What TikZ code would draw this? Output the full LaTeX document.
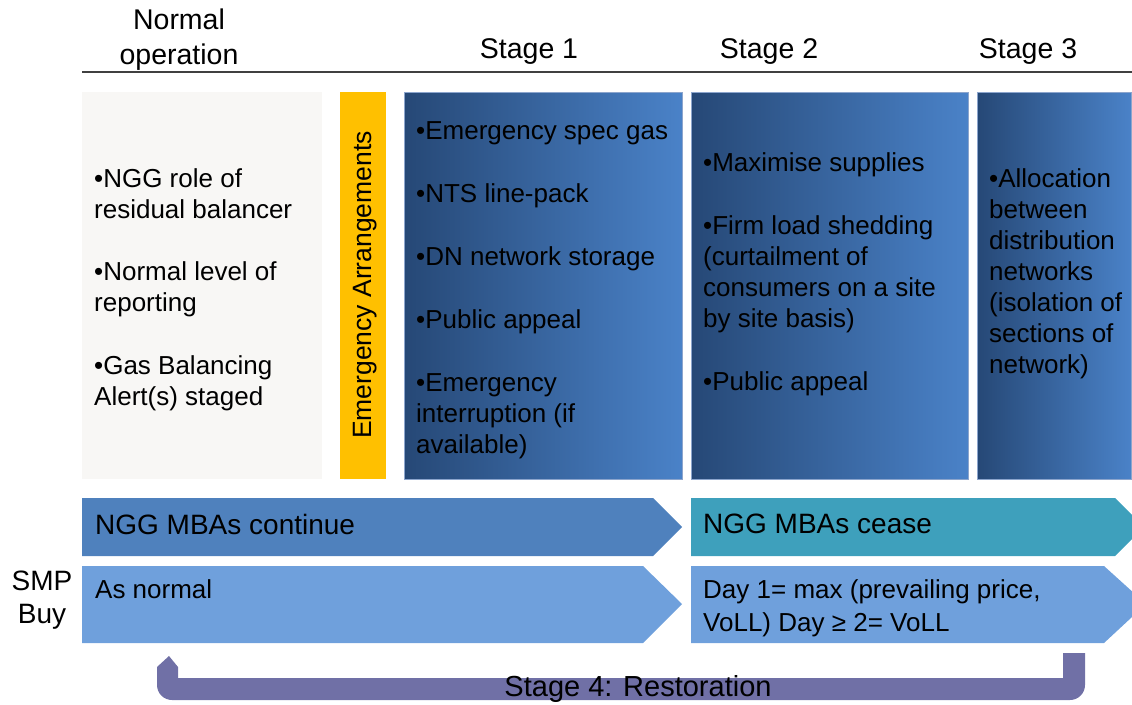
\documentclass[tikz,border=0pt]{standalone}
\usepackage{fontspec}
\setmainfont{Liberation Sans}
\definecolor{normbox}{RGB}{248,247,245}
\definecolor{emyellow}{RGB}{255,192,0}
\definecolor{gradL}{RGB}{38,72,118}
\definecolor{gradR}{RGB}{74,130,200}
\definecolor{gradEdge}{RGB}{140,165,205}
\definecolor{rowA}{RGB}{79,129,189}
\definecolor{rowTeal}{RGB}{62,160,188}
\definecolor{rowB}{RGB}{111,160,220}
\definecolor{restor}{RGB}{112,112,166}
\definecolor{hline}{RGB}{64,64,64}
\tikzset{
  x=1pt, y=-1pt,
  hdr/.style={font=\fontsize{28.5}{35}\selectfont, inner sep=0pt, align=center},
  body/.style={font=\fontsize{26}{31}\selectfont, inner sep=0pt, align=left, anchor=north west},
  rowtxt/.style={font=\fontsize{28}{33}\selectfont, inner sep=0pt, anchor=west},
  rowtxtb/.style={font=\fontsize{26}{33}\selectfont, inner sep=0pt, align=left, anchor=north west},
  gradbox/.style={left color=gradL, right color=gradR, draw=gradEdge, line width=0.8pt},
}
\begin{document}
\begin{tikzpicture}
\useasboundingbox (0,0) rectangle (1132,704);
\clip (0,0) rectangle (1132,704);

% headers
\node[hdr] (hnorm) at (179,40) {Normal\\operation};
\node[hdr] (hs1) at (529,52) {Stage 1};
\node[hdr] (hs2) at (769,52) {Stage 2};
\node[hdr] (hs3) at (1028,52) {Stage 3};
\coordinate (hlA) at (82,72);
\coordinate (hlB) at (1132,72);
\draw[hline, line width=1.5pt] (hlA) -- (hlB);

% boxes
\fill[normbox] (82,92) rectangle (322,479);
\fill[emyellow] (340,92) rectangle (386,479);
\shade[gradbox] (404,92) rectangle (682,479);
\shade[gradbox] (691,92) rectangle (968,479);
\shade[gradbox] (977,92) rectangle (1131,479);

\node[font=\fontsize{26.5}{31}\selectfont, inner sep=0pt, rotate=90] (emarr) at (365,285) {Emergency Arrangements};

\node[body] (tnorm) at (94,168) {•NGG role of\\residual balancer\\[31.5pt]•Normal level of\\reporting\\[32pt]•Gas Balancing\\Alert(s) staged};
\node[body] (ts1) at (416,121) {•Emergency spec gas\\[32pt]•NTS line-pack\\[32pt]•DN network storage\\[32pt]•Public appeal\\[32pt]•Emergency\\interruption (if\\available)};
\node[body] (ts2) at (703,152) {•Maximise supplies\\[32pt]•Firm load shedding\\(curtailment of\\consumers on a site\\by site basis)\\[32pt]•Public appeal};
\node[body] (ts3) at (989,168) {•Allocation\\between\\distribution\\networks\\(isolation of\\sections of\\network)};

% row 1
\fill[rowA] (82,498) -- (653,498) -- (682,527) -- (653,556) -- (82,556) -- cycle;
\fill[rowTeal] (691,498) -- (1115,498) -- (1144,527) -- (1115,556) -- (691,556) -- cycle;
\node[rowtxt] (mbac) at (95,524) {NGG MBAs continue};
\node[rowtxt] (mbas) at (703,524) {NGG MBAs cease};

% row 2
\fill[rowB] (82,566) -- (643,566) -- (682,604) -- (643,643) -- (82,643) -- cycle;
\fill[rowB] (691,566) -- (1104,566) -- (1146,604) -- (1104,643) -- (691,643) -- cycle;
\node[rowtxt, font=\fontsize{26}{31}\selectfont] (asn) at (95,589) {As normal};
\node[rowtxtb] (day) at (703,579) {Day 1= max (prevailing price,\\VoLL) Day ≥ 2= VoLL};
\node[font=\fontsize{28}{33}\selectfont, inner sep=0pt, align=center] (smp) at (42,600) {SMP\\Buy};

% restoration bracket
\fill[restor] (157,667) -- (169,656) -- (178,667) -- (178,678) -- (1063,678) -- (1063,653) -- (1085,653)
  -- (1085,685) arc[start angle=0, end angle=90, radius=15] -- (172,700)
  arc[start angle=90, end angle=180, radius=15] -- cycle;
\node[font=\fontsize{29}{33}\selectfont, inner sep=0pt] (rest) at (638,689) {Stage 4: Restoration};
\end{tikzpicture}
\end{document}
